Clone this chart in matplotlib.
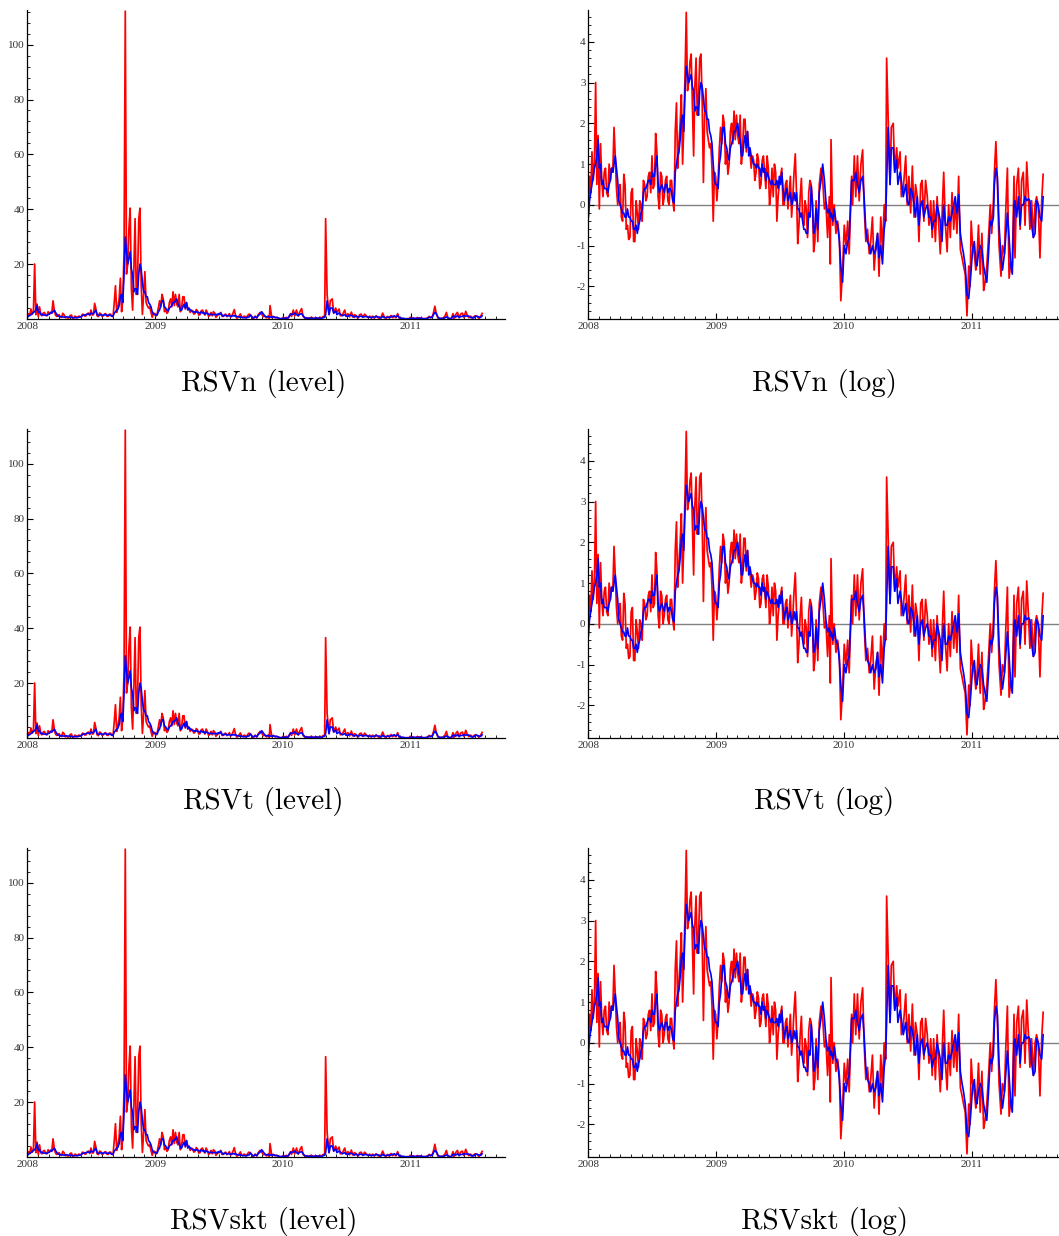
"""Six-panel RSV figure: level (exp) and log versions for three estimators."""

import matplotlib
matplotlib.use("Agg")  # headless, straight to file
import matplotlib.pyplot as plt
import numpy as np
from matplotlib.ticker import MultipleLocator, FixedLocator

# ---------------------------------------------------------------------- #
# Data, in weeks since 1 Jan 2008.
# The level panels are exp() of the same series.
# Part A: half-weekly readings, weeks 0 .. 92.5
# ---------------------------------------------------------------------- #
weeks_a = np.arange(0, 93, 0.5)

red_a = [
    -0.3, 0.7, 0.3, 1.3, 0.6, 1.0, 3.0, 0.5, 1.7, -0.1,
    1.5, 0.6, 0.2, 0.8, 0.9, 0.3, 0.2, 1.0, 0.6, 0.9,
    0.8, 1.9, 1.2, 0.4, 0.0, 0.3, 0.5, -0.3, -0.4, 0.75,
    0.5, -0.6, -0.5, -0.85, -0.8, 0.3, 0.4, -0.9, -0.9, 0.1,
    -0.2, -0.6, 0.1, 0.0, -0.4, 0.6, 0.5, 0.1, 0.2, 0.7,
    0.8, 0.3, 1.2, 0.4, 0.5, 1.75, 1.3, 0.2, -0.1, 0.8,
    0.7, 0.0, 0.2, 0.6, 0.7, 0.1, 0.0, 0.6, 0.6, 0.1,
    -0.15, 1.8, 2.5, 0.9, 1.5, 2.0, 2.7, 1.0, 2.0, 3.2,
    4.72, 2.8, 3.0, 3.5, 3.7, 2.4, 1.2, 2.9, 3.6, 2.2,
    2.6, 3.6, 3.7, 2.5, 0.55, 2.2, 2.85, 1.8, 1.6, 1.4,
    1.5, 0.9, -0.4, 0.8, 0.7, 0.1, 0.6, 1.4, 1.9, 1.5,
    2.2, 2.0, 1.0, 1.3, 0.75, 1.0, 1.8, 2.0, 1.5, 2.3,
    1.6, 2.2, 1.7, 1.5, 2.2, 1.0, 1.4, 2.1, 2.1, 1.3,
    1.8, 1.4, 1.3, 0.9, 1.2, 1.1, 0.6, 0.8, 1.25, 1.1,
    0.4, 0.5, 1.1, 1.2, 0.8, 0.4, 1.2, 0.9, 0.0, 0.3,
    0.9, 0.2, 1.0, 0.8, -0.4, 0.2, 0.5, 0.7, 0.9, 0.0,
    0.0, 0.5, 0.6, -0.1, 0.3, 0.7, -0.3, 0.2, 0.8, 1.25,
    0.3, -0.95, -0.5, 0.2, 0.65, -0.3, -0.5, 0.1, -0.1, -0.8,
    0.3, 0.6, 0.5, 0.1, -1.15, -0.9,
]

blue_a = [
    -0.3, 0.1, 0.3, 0.5, 0.7, 0.9, 1.0, 1.2, 1.6, 0.9,
    1.0, 0.5, 0.6, 0.4, 0.4, 0.4, 0.3, 0.5, 0.6, 0.9,
    0.8, 1.0, 1.2, 0.9, 0.6, 0.1, 0.0, -0.1, -0.2, -0.2,
    -0.3, -0.3, -0.1, -0.3, -0.3, -0.4, -0.4, -0.6, -0.6, -0.5,
    -0.7, -0.5, -0.4, -0.2, -0.1, 0.3, 0.4, 0.4, 0.5, 0.6,
    0.6, 0.5, 0.8, 0.7, 0.7, 1.0, 1.2, 0.5, 0.3, 0.4,
    0.5, 0.4, 0.3, 0.5, 0.5, 0.3, 0.4, 0.4, 0.3, 0.1,
    0.05, 0.8, 1.0, 1.2, 1.3, 1.6, 2.1, 2.2, 1.8, 2.8,
    3.4, 3.2, 3.0, 3.1, 3.2, 2.9, 2.8, 2.3, 2.4, 2.4,
    2.2, 2.8, 3.0, 2.9, 2.6, 2.3, 2.3, 2.1, 2.1, 1.8,
    1.7, 1.5, 1.0, 0.6, 0.5, 0.5, 0.4, 1.0, 1.2, 1.6,
    1.9, 1.9, 1.5, 1.4, 1.2, 1.1, 1.4, 1.5, 1.6, 1.8,
    1.8, 1.9, 2.0, 1.7, 1.6, 1.2, 1.2, 1.5, 1.7, 1.4,
    1.8, 1.2, 1.4, 1.2, 1.1, 1.0, 1.0, 0.9, 1.0, 0.9,
    0.9, 0.7, 1.0, 0.8, 0.9, 0.6, 0.8, 0.7, 0.6, 0.5,
    0.6, 0.5, 0.5, 0.5, 0.6, 0.4, 0.7, 0.5, 0.8, 0.4,
    0.1, 0.3, 0.4, 0.1, 0.2, 0.3, 0.0, 0.1, 0.3, 0.1,
    0.3, -0.1, -0.1, -0.3, -0.2, -0.4, -0.6, -0.6, -0.7, -0.7,
    -0.2, -0.3, 0.45, 0.0, -0.7, -0.6,
]

# Part B: irregular readings, weeks 93 .. end (late July 2011)
weeks_b = [
    93.0, 93.7, 94.3, 95.0, 95.7, 96.4, 97.0,
    97.7, 98.4, 98.8, 99.1, 99.8, 100.4, 101.1, 101.8, 102.5, 103.1,
    103.8, 104.5, 105.2, 105.9, 106.5, 107.5, 107.9, 108.6, 109.2, 109.9,
    110.6, 111.3, 112.0, 112.6, 113.3, 114.0, 114.7, 115.3, 116.0, 116.7,
    117.4, 118.1, 118.7, 119.4, 120.1, 120.8, 121.4, 121.8, 122.4, 123.2,
    123.7, 124.5, 125.1, 125.9, 126.4, 127.3, 127.8, 128.6, 129.6, 130.2,
    130.9, 131.6, 132.3, 133.0, 133.6, 134.3, 135.0, 135.7, 136.3, 137.0,
    137.7, 138.4, 139.1, 139.8, 140.4, 141.0, 141.7, 142.4, 143.1, 143.7,
    144.4, 145.1, 145.8, 146.5, 147.1, 147.8, 148.5, 149.2, 149.8, 150.5,
    151.2, 151.9, 152.6, 153.2, 153.9, 154.6, 155.3, 155.9, 156.3, 156.9,
    157.6, 158.2, 158.6, 159.3, 160.0, 160.7, 161.4, 162.0, 162.7, 163.4,
    164.1, 164.7, 165.4, 165.8, 166.4, 167.0, 167.7, 168.5, 169.1, 169.9,
    170.4, 171.1, 171.8, 172.5, 173.1, 173.8, 174.2, 174.9, 175.6, 176.3,
    176.9, 177.6, 178.3, 179.0, 179.7, 180.3, 181.0, 181.7, 182.4, 183.0,
    183.7, 184.4, 185.1, 185.7,
]

red_b = [
    0.1, -0.9, 0.5, 0.9, 0.6, -0.1, 0.05,
    -0.8, 0.2, -1.45, 1.6, -0.5, 0.0, -0.7, -0.4, -0.8, -2.35,
    -1.6, -0.5, -1.0, -0.4, -1.2, 0.7, 0.0, 1.2, 0.2, 1.2,
    0.1, 1.0, 1.35, 0.0, -0.9, -0.6, -1.2, -0.9, -0.3, -1.6,
    -1.0, -0.7, -1.75, -0.3, -1.1, 0.0, -0.4, 3.6, 2.2, 0.5,
    1.9, 2.0, 0.8, 1.4, 0.9, 1.3, 0.2, 0.4, 1.2, 0.0,
    0.7, -0.2, 0.95, -0.3, 0.5, 0.2, -0.9, 0.5, 0.6, -0.4,
    0.6, 0.2, -0.5, 0.1, -0.8, 0.1, -0.9, 0.2, -0.5, -1.2,
    -0.3, 0.8, -0.5, -1.15, 0.0, -0.8, 0.3, -0.6, 0.1, -0.7,
    0.7, -1.1, -1.3, -1.5, -1.7, -2.72, -1.5, -2.0, -0.4, -1.0,
    -1.2, -1.6, -1.4, -0.5, -1.7, -0.7, -2.1, -1.9, -1.5, -0.8,
    0.0, -0.7, 0.1, 0.8, 1.55, 0.6, -1.0, -1.75, -1.0, -1.2,
    -0.2, 0.9, -1.8, -1.4, -1.5, 0.7, -1.3, 0.5, 0.9, -0.6,
    0.6, 0.8, -0.5, 1.05, 0.2, -0.6, 0.1, -0.8, 0.0, 0.2,
    0.0, -1.3, 0.1, 0.75,
]

blue_b = [
    -0.1, -0.6, 0.3, 0.6, 1.0, 0.6, 0.1,
    -0.2, -0.1, -0.3, -0.2, -0.4, -0.1, -0.4, -0.5, -0.9, -1.5,
    -1.9, -1.0, -1.2, -0.9, -0.8, 0.6, 0.6, 0.6, 0.8, 0.5,
    0.3, 0.6, 0.7, 0.2, -0.6, -0.9, -1.0, -1.2, -1.0, -1.2,
    -1.1, -0.7, -1.3, -1.0, -1.45, -0.6, -0.3, 0.5, 1.9, 0.5,
    1.4, 1.4, 0.8, 1.1, 0.5, 0.8, 0.6, 0.2, 0.5, 0.1,
    0.0, 0.4, 0.3, 0.0, -0.3, 0.2, -0.5, 0.0, 0.1, -0.3,
    -0.1, 0.0, -0.3, -0.3, -0.6, -0.4, -0.4, 0.0, -0.2, -0.4,
    -0.9, 0.0, -0.5, -0.5, -0.3, -0.4, -0.2, 0.0, 0.2, -0.2,
    0.25, -0.7, -1.0, -1.2, -1.5, -2.2, -2.3, -1.9, -1.6, -1.1,
    -0.9, -1.4, -1.5, -1.2, -1.0, -1.1, -1.5, -1.7, -1.9, -1.2,
    -0.4, -0.5, -0.3, 0.5, 0.9, 0.7, -0.5, -1.3, -1.6, -1.2,
    -0.8, -0.2, -0.8, -1.5, -1.7, 0.0, 0.1, -0.3, 0.2, -0.5,
    0.0, 0.0, 0.2, 0.1, 0.15, 0.1, -0.5, -0.8, -0.7, 0.1,
    0.0, -0.3, -0.4, 0.2,
]

row_names = ["RSVn", "RSVt", "RSVskt"]
year_ticks = [2008, 2009, 2010, 2011]
level_ticks = [20, 40, 60, 80, 100]
log_ticks = [-2, -1, 0, 1, 2, 3, 4]

assert len(weeks_a) == len(red_a) == len(blue_a)
assert len(weeks_b) == len(red_b) == len(blue_b)

# ---------------------------------------------------------------------- #
# Layout (figure is 1059 x 1236 px at dpi 100)
# ---------------------------------------------------------------------- #
W, H = 1059, 1236
plt.rcParams["axes.unicode_minus"] = False

TICK_FONT = dict(family="Liberation Serif", size=8)
TICK_COLOR = "#333333"


def _style_axes(ax, ylim, major, minor):
    """Mathematica-like axes: left + bottom lines only, inward ticks."""
    ax.set_xlim(2008, 2011.74)
    ax.set_ylim(*ylim)
    for side in ("top", "right"):
        ax.spines[side].set_visible(False)
    for side in ("left", "bottom"):
        ax.spines[side].set_linewidth(0.9)
    ax.xaxis.set_major_locator(FixedLocator(year_ticks))
    ax.xaxis.set_minor_locator(MultipleLocator(1 / 12))
    ax.yaxis.set_major_locator(FixedLocator(major))
    ax.yaxis.set_minor_locator(MultipleLocator(minor))
    ax.set_xticklabels([str(y) for y in year_ticks])
    ax.tick_params(which="major", direction="in", length=4, width=0.8,
                   pad=2, labelcolor=TICK_COLOR)
    ax.tick_params(which="minor", direction="in", length=2.2, width=0.6)
    for lab in ax.get_xticklabels() + ax.get_yticklabels():
        lab.set_fontfamily(TICK_FONT["family"])
        lab.set_fontsize(TICK_FONT["size"])


t = 2008 + np.concatenate([weeks_a, weeks_b]) / 52.18
red = np.concatenate([red_a, red_b])
blue = np.concatenate([blue_a, blue_b])

fig = plt.figure(figsize=(W / 100, H / 100), dpi=100)

left_x, right_x = 27.3, 588.3
ax_w = 478.0
row_bottom = [319, 738, 1157]
ax_h = 309.0

for name, yb in zip(row_names, row_bottom):
    # level panel
    ax = fig.add_axes([left_x / W, 1 - yb / H, ax_w / W, ax_h / H])
    ax.plot(t, np.exp(red), color="red", lw=1.25)
    ax.plot(t, np.exp(blue), color="blue", lw=1.2)
    _style_axes(ax, (0.06, 112.6), level_ticks, 4)
    fig.text((left_x + 236) / W, 1 - (yb + 64) / H, f"{name} (level)",
             family="cmr10", fontsize=21, ha="center", va="center")

    # log panel
    ax = fig.add_axes([right_x / W, 1 - yb / H, ax_w / W, ax_h / H])
    ax.axhline(0, color="#808080", lw=1.0, zorder=0)
    ax.plot(t, red, color="red", lw=1.25)
    ax.plot(t, blue, color="blue", lw=1.2)
    _style_axes(ax, (-2.8, 4.78), log_ticks, 0.2)
    fig.text((right_x + 236) / W, 1 - (yb + 64) / H, f"{name} (log)",
             family="cmr10", fontsize=21, ha="center", va="center")

fig.savefig("out.png", dpi=100)
